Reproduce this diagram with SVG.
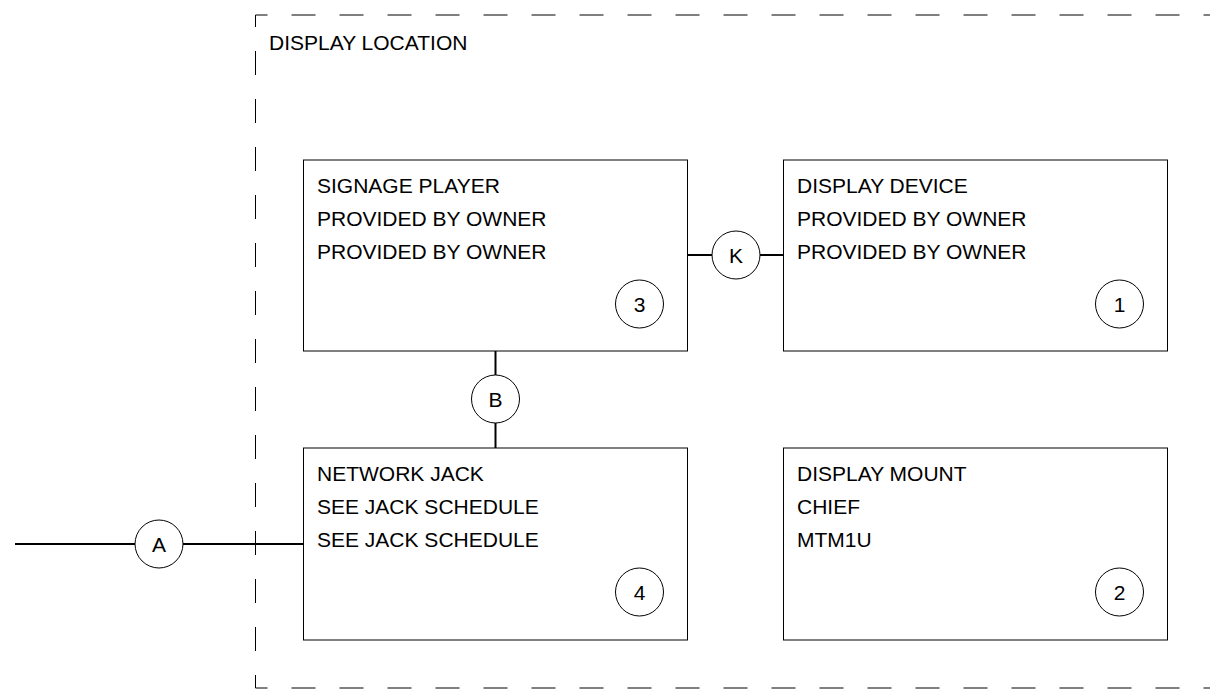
<svg xmlns="http://www.w3.org/2000/svg" width="1210" height="692" viewBox="0 0 1210 692">
  <style>
    .bg { fill: #ffffff; }
    .boundary { fill: none; stroke: #000; stroke-width: 1; stroke-dasharray: 24 24; stroke-dashoffset: 12; }
    .box { fill: #ffffff; stroke: #000; stroke-width: 1; }
    .wire { fill: none; stroke: #000; stroke-width: 2; }
    .bubble { fill: #ffffff; stroke: #000; stroke-width: 1; }
    text { font-family: "Liberation Sans", Arial, sans-serif; font-size: 21px; fill: #000; }
    .c { text-anchor: middle; }
  </style>
  <rect class="bg" x="0" y="0" width="1210" height="692"/>

  <g id="display-location">
    <path class="boundary" d="M255.5 15 H1230"/>
    <path class="boundary" d="M255.5 15 V688"/>
    <path class="boundary" d="M255.5 688 H1230"/>
    <text x="269" y="50">DISPLAY LOCATION</text>
  </g>

  <g id="connectors">
    <path class="wire" d="M687 255 H712 M760 255 H783"/>
    <path class="wire" d="M495.5 351 V375 M495.5 423 V448"/>
    <path class="wire" d="M15 544 H135 M183 544 H303"/>
  </g>

  <g id="signage-player">
    <rect class="box" x="303.5" y="160" width="384" height="191"/>
    <text x="317" y="193">SIGNAGE PLAYER</text>
    <text x="317" y="226">PROVIDED BY OWNER</text>
    <text x="317" y="259">PROVIDED BY OWNER</text>
    <circle class="bubble" cx="639.5" cy="304" r="24"/>
    <text class="c" x="639.5" y="312">3</text>
  </g>

  <g id="display-device">
    <rect class="box" x="783.5" y="160" width="384" height="191"/>
    <text x="797" y="193">DISPLAY DEVICE</text>
    <text x="797" y="226">PROVIDED BY OWNER</text>
    <text x="797" y="259">PROVIDED BY OWNER</text>
    <circle class="bubble" cx="1119.5" cy="304" r="24"/>
    <text class="c" x="1119.5" y="312">1</text>
  </g>

  <g id="network-jack">
    <rect class="box" x="303.5" y="448" width="384" height="192"/>
    <text x="317" y="481">NETWORK JACK</text>
    <text x="317" y="514">SEE JACK SCHEDULE</text>
    <text x="317" y="547">SEE JACK SCHEDULE</text>
    <circle class="bubble" cx="639.5" cy="592" r="24"/>
    <text class="c" x="639.5" y="600">4</text>
  </g>

  <g id="display-mount">
    <rect class="box" x="783.5" y="448" width="384" height="192"/>
    <text x="797" y="481">DISPLAY MOUNT</text>
    <text x="797" y="514">CHIEF</text>
    <text x="797" y="547">MTM1U</text>
    <circle class="bubble" cx="1119.5" cy="592" r="24"/>
    <text class="c" x="1119.5" y="600">2</text>
  </g>

  <g id="bubble-k">
    <circle class="bubble" cx="736" cy="255" r="24"/>
    <text class="c" x="736" y="263">K</text>
  </g>
  <g id="bubble-b">
    <circle class="bubble" cx="495.5" cy="399" r="24"/>
    <text class="c" x="495.5" y="407">B</text>
  </g>
  <g id="bubble-a">
    <circle class="bubble" cx="159" cy="544" r="24"/>
    <text class="c" x="159" y="552">A</text>
  </g>
</svg>
